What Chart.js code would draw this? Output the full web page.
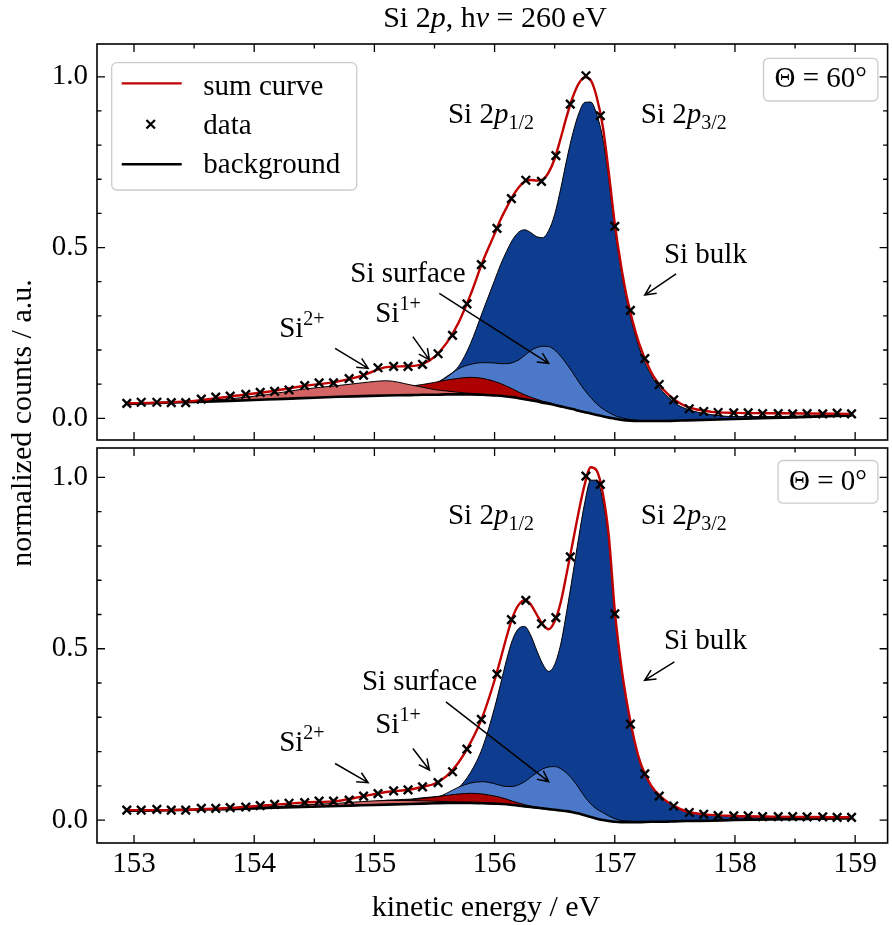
<!DOCTYPE html>
<html>
<head>
<meta charset="utf-8">
<script src="https://cdn.jsdelivr.net/npm/chart.js@4"></script>
<style>
  html, body { margin: 0; padding: 0; background: #fff; overflow: hidden; }
  .panel { position: absolute; left: 0; top: 0; }
</style>
</head>
<body>
<canvas id="panel60" class="panel" width="896" height="925"></canvas>
<canvas id="panel0" class="panel" width="896" height="925"></canvas>
<script>
// measured spectrum, kinetic energy in eV
const energies = [152.94, 153.06, 153.19, 153.31, 153.43, 153.56, 153.68, 153.80, 153.93, 154.05,
  154.17, 154.29, 154.42, 154.54, 154.66, 154.79, 154.91, 155.03, 155.16, 155.28,
  155.40, 155.53, 155.65, 155.77, 155.89, 156.02, 156.14, 156.26, 156.39, 156.51,
  156.63, 156.76, 156.88, 157.00, 157.13, 157.25, 157.37, 157.49, 157.62, 157.74,
  157.86, 157.99, 158.11, 158.23, 158.36, 158.48, 158.60, 158.73, 158.85, 158.97]

const counts60 = [0.044, 0.047, 0.047, 0.046, 0.046, 0.056, 0.062, 0.065, 0.070, 0.076,
  0.079, 0.083, 0.096, 0.104, 0.104, 0.116, 0.126, 0.148, 0.152, 0.152,
  0.158, 0.189, 0.243, 0.335, 0.450, 0.556, 0.643, 0.697, 0.694, 0.769,
  0.920, 1.003, 0.886, 0.562, 0.316, 0.175, 0.099, 0.054, 0.028, 0.020,
  0.017, 0.016, 0.016, 0.014, 0.014, 0.013, 0.014, 0.013, 0.015, 0.013]

const counts0 = [0.029, 0.029, 0.031, 0.029, 0.029, 0.034, 0.034, 0.036, 0.038, 0.042,
  0.046, 0.049, 0.051, 0.055, 0.055, 0.058, 0.070, 0.077, 0.085, 0.088,
  0.097, 0.109, 0.141, 0.207, 0.294, 0.426, 0.585, 0.641, 0.573, 0.591,
  0.768, 1.004, 0.980, 0.602, 0.280, 0.135, 0.070, 0.041, 0.022, 0.017,
  0.013, 0.012, 0.012, 0.010, 0.010, 0.010, 0.009, 0.009, 0.008, 0.008]

// fit curves sampled on this energy grid
const curveEnergies = [152.94, 153.2, 153.5, 153.8, 154.1, 154.4, 154.7, 154.9, 155.1, 155.3,
  155.4, 155.5, 155.6, 155.7, 155.8, 155.9, 156.0, 156.05, 156.1, 156.15,
  156.2, 156.25, 156.3, 156.35, 156.4, 156.45, 156.5, 156.55, 156.6, 156.65,
  156.7, 156.75, 156.8, 156.85, 156.9, 156.95, 157.0, 157.05, 157.1, 157.2,
  157.3, 157.4, 157.5, 157.6, 157.8, 158.0, 158.3, 158.6, 158.97]

// Theta = 60 deg
const background60 = [0.042, 0.045, 0.048, 0.051, 0.055, 0.059, 0.063, 0.065, 0.067, 0.068,
  0.069, 0.069, 0.070, 0.070, 0.070, 0.069, 0.067, 0.066, 0.064, 0.062,
  0.059, 0.056, 0.053, 0.050, 0.046, 0.043, 0.039, 0.035, 0.031, 0.027,
  0.022, 0.018, 0.014, 0.010, 0.006, 0.002, -0.001, -0.004, -0.006, -0.008,
  -0.008, -0.008, -0.007, -0.006, -0.004, -0.002, 0.001, 0.004, 0.008]
const sum60 = [0.044, 0.046, 0.051, 0.064, 0.077, 0.094, 0.108, 0.125, 0.150, 0.153,
  0.159, 0.180, 0.220, 0.280, 0.362, 0.458, 0.540, 0.582, 0.617, 0.650,
  0.676, 0.693, 0.698, 0.696, 0.699, 0.720, 0.760, 0.820, 0.884, 0.940,
  0.980, 0.999, 0.990, 0.940, 0.855, 0.720, 0.570, 0.452, 0.356, 0.222,
  0.137, 0.086, 0.054, 0.034, 0.019, 0.016, 0.015, 0.014, 0.013]
const bulk60 = [0.001, 0.001, 0.002, 0.002, 0.003, 0.004, 0.005, 0.007, 0.010, 0.014,
  0.020, 0.032, 0.052, 0.082, 0.149, 0.243, 0.337, 0.384, 0.425, 0.461,
  0.486, 0.496, 0.491, 0.482, 0.483, 0.507, 0.558, 0.637, 0.726, 0.806,
  0.870, 0.907, 0.912, 0.880, 0.814, 0.698, 0.556, 0.444, 0.351, 0.218,
  0.136, 0.086, 0.052, 0.033, 0.015, 0.007, 0.004, 0.003, 0.002]
const surface60 = [0.001, 0.001, 0.001, 0.002, 0.002, 0.003, 0.005, 0.007, 0.010, 0.014,
  0.020, 0.030, 0.050, 0.075, 0.088, 0.094, 0.095, 0.094, 0.096, 0.101,
  0.112, 0.128, 0.145, 0.157, 0.165, 0.167, 0.161, 0.147, 0.128, 0.107,
  0.085, 0.064, 0.047, 0.032, 0.022, 0.015, 0.009, 0.006, 0.004, 0.002,
  0.001, 0, 0, 0, 0, 0, 0, 0, 0]
const si1Plus60 = [0, 0, 0.001, 0.001, 0.002, 0.004, 0.008, 0.013, 0.020, 0.026,
  0.030, 0.036, 0.042, 0.047, 0.050, 0.048, 0.041, 0.036, 0.030, 0.024,
  0.018, 0.013, 0.009, 0.006, 0.004, 0.003, 0.002, 0.001, 0, 0,
  0, 0, 0, 0, 0, 0, 0, 0, 0, 0,
  0, 0, 0, 0, 0, 0, 0, 0, 0]
const si2Plus60 = [0, 0, 0.002, 0.006, 0.014, 0.026, 0.033, 0.039, 0.043, 0.030,
  0.022, 0.015, 0.010, 0.006, 0.003, 0.001, 0, 0, 0, 0,
  0, 0, 0, 0, 0, 0, 0, 0, 0, 0,
  0, 0, 0, 0, 0, 0, 0, 0, 0, 0,
  0, 0, 0, 0, 0, 0, 0, 0, 0]

// Theta = 0 deg
const background0 = [0.027, 0.028, 0.030, 0.032, 0.035, 0.038, 0.041, 0.043, 0.045, 0.047,
  0.048, 0.049, 0.050, 0.050, 0.050, 0.049, 0.048, 0.047, 0.046, 0.044,
  0.042, 0.040, 0.038, 0.036, 0.034, 0.032, 0.030, 0.028, 0.026, 0.023,
  0.019, 0.014, 0.009, 0.004, 0.000, -0.003, -0.005, -0.006, -0.006, -0.006,
  -0.005, -0.005, -0.004, -0.003, -0.002, 0.000, 0.002, 0.003, 0.005]
const sum0 = [0.029, 0.029, 0.031, 0.035, 0.043, 0.051, 0.056, 0.069, 0.082, 0.089,
  0.097, 0.106, 0.128, 0.168, 0.226, 0.302, 0.408, 0.470, 0.535, 0.592,
  0.628, 0.642, 0.630, 0.600, 0.572, 0.557, 0.580, 0.635, 0.720, 0.810,
  0.900, 0.980, 1.030, 1.020, 0.955, 0.830, 0.612, 0.460, 0.345, 0.182,
  0.102, 0.063, 0.040, 0.025, 0.015, 0.012, 0.010, 0.009, 0.008]
const bulk0 = [0.002, 0.001, 0.000, 0.001, 0.003, 0.003, 0.004, 0.007, 0.013, 0.014,
  0.017, 0.019, 0.024, 0.044, 0.089, 0.163, 0.280, 0.350, 0.422, 0.483,
  0.517, 0.525, 0.502, 0.460, 0.422, 0.402, 0.424, 0.485, 0.583, 0.692,
  0.806, 0.912, 0.983, 0.988, 0.933, 0.818, 0.608, 0.461, 0.348, 0.187,
  0.107, 0.068, 0.044, 0.028, 0.017, 0.012, 0.008, 0.006, 0.003]
const surface0 = [0, 0, 0.001, 0.001, 0.001, 0.002, 0.002, 0.003, 0.004, 0.006,
  0.009, 0.014, 0.028, 0.046, 0.058, 0.063, 0.058, 0.054, 0.052, 0.054,
  0.061, 0.072, 0.087, 0.102, 0.115, 0.123, 0.126, 0.122, 0.111, 0.095,
  0.075, 0.054, 0.038, 0.028, 0.022, 0.015, 0.009, 0.005, 0.003, 0.001,
  0, 0, 0, 0, 0, 0, 0, 0, 0]
const si1Plus0 = [0, 0, 0, 0.001, 0.001, 0.002, 0.003, 0.005, 0.008, 0.012,
  0.015, 0.018, 0.022, 0.026, 0.028, 0.027, 0.022, 0.019, 0.015, 0.011,
  0.008, 0.005, 0.003, 0.002, 0.001, 0, 0, 0, 0, 0,
  0, 0, 0, 0, 0, 0, 0, 0, 0, 0,
  0, 0, 0, 0, 0, 0, 0, 0, 0]
const si2Plus0 = [0, 0, 0.001, 0.002, 0.003, 0.006, 0.008, 0.011, 0.012, 0.010,
  0.008, 0.006, 0.004, 0.002, 0.001, 0, 0, 0, 0, 0,
  0, 0, 0, 0, 0, 0, 0, 0, 0, 0,
  0, 0, 0, 0, 0, 0, 0, 0, 0, 0,
  0, 0, 0, 0, 0, 0, 0, 0, 0]

const xTicks = [153, 154, 155, 156, 157, 158, 159]
const yTicks = [0.0, 0.5, 1.0]

const SERIF = '"Liberation Serif", "Times New Roman", serif'
const FS = 29
const LABEL_FS = 30
const SMALL = 20
const SUM_RED = '#c00000'
const BULK_BLUE = '#0e3c8e'
const SURFACE_BLUE = '#4b78c8'
const SI1_RED = '#ad0000'
const SI2_SALMON = '#d46464'
const CROSS = { pointStyle: 'crossRot', radius: 6, borderWidth: 2.4 }

const X_MIN = 152.692
const X_MAX = 159.27

const it = t => ({ t, italic: true })
const sub = t => ({ t, size: SMALL, dy: 6 })
const sup = t => ({ t, size: SMALL, dy: -12 })

function fontOf(part, size) {
  return (part.italic ? 'italic ' : '') + (part.size || size || FS) + 'px ' + SERIF
}

function drawRich(ctx, parts, x, y, align, size) {
  parts = parts.map(p => (typeof p === 'string' ? { t: p } : p))
  let width = 0
  for (const p of parts) {
    ctx.font = fontOf(p, size)
    width += ctx.measureText(p.t).width
  }
  let cx = align === 'center' ? x - width / 2 : (align === 'right' ? x - width : x)
  ctx.textAlign = 'left'
  for (const p of parts) {
    ctx.font = fontOf(p, size)
    ctx.fillText(p.t, cx, y + (p.dy || 0))
    cx += ctx.measureText(p.t).width
  }
  return width
}

function roundBox(ctx, x, y, w, h, r) {
  ctx.beginPath()
  ctx.moveTo(x + r, y)
  ctx.lineTo(x + w - r, y)
  ctx.arcTo(x + w, y, x + w, y + r, r)
  ctx.lineTo(x + w, y + h - r)
  ctx.arcTo(x + w, y + h, x + w - r, y + h, r)
  ctx.lineTo(x + r, y + h)
  ctx.arcTo(x, y + h, x, y + h - r, r)
  ctx.lineTo(x, y + r)
  ctx.arcTo(x, y, x + r, y, r)
  ctx.closePath()
  ctx.fillStyle = 'rgba(255,255,255,0.85)'
  ctx.fill()
  ctx.strokeStyle = '#cccccc'
  ctx.lineWidth = 1.3
  ctx.stroke()
}

function drawArrow(ctx, x0, y0, x1, y1) {
  const ang = Math.atan2(y1 - y0, x1 - x0)
  const hl = 12
  const ha = 0.45
  ctx.beginPath()
  ctx.moveTo(x0, y0)
  ctx.lineTo(x1, y1)
  ctx.moveTo(x1 - hl * Math.cos(ang - ha), y1 - hl * Math.sin(ang - ha))
  ctx.lineTo(x1, y1)
  ctx.lineTo(x1 - hl * Math.cos(ang + ha), y1 - hl * Math.sin(ang + ha))
  ctx.stroke()
}

// frame with inward ticks on all four sides
function drawFrame(chart) {
  const { ctx, chartArea: a, scales: { x, y } } = chart
  ctx.save()
  ctx.strokeStyle = '#000'
  ctx.lineWidth = 1.6
  ctx.strokeRect(a.left, a.top, a.right - a.left, a.bottom - a.top)
  ctx.lineWidth = 1.3
  ctx.beginPath()
  for (let v = 152.5; v <= 159.5; v += 0.5) {
    const px = x.getPixelForValue(v)
    if (px < a.left + 1 || px > a.right - 1) continue
    const len = Number.isInteger(v) ? 8 : 4.5
    ctx.moveTo(px, a.bottom); ctx.lineTo(px, a.bottom - len)
    ctx.moveTo(px, a.top); ctx.lineTo(px, a.top + len)
  }
  for (let k = -1; k <= 11; k++) {
    const py = y.getPixelForValue(k / 10)
    if (py < a.top + 1 || py > a.bottom - 1) continue
    const len = k % 5 === 0 ? 8 : 4.5
    ctx.moveTo(a.left, py); ctx.lineTo(a.left + len, py)
    ctx.moveTo(a.right, py); ctx.lineTo(a.right - len, py)
  }
  ctx.stroke()
  ctx.restore()
}

function drawNotes(chart, panel) {
  const { ctx, chartArea: a, scales: { x, y } } = chart
  const px = p => [x.getPixelForValue(p[0]), y.getPixelForValue(p[1])]
  ctx.save()
  ctx.fillStyle = '#000'
  ctx.strokeStyle = '#000'
  ctx.lineWidth = 1.5
  ctx.textBaseline = 'alphabetic'
  for (const note of panel.notes) {
    const [tx, ty] = px(note.at)
    drawRich(ctx, note.text, tx, ty, 'center')
    if (note.arrow) {
      const [x0, y0] = px(note.arrow[0])
      const [x1, y1] = px(note.arrow[1])
      drawArrow(ctx, x0, y0, x1, y1)
    }
  }
  // angle box in the upper right corner
  ctx.font = fontOf({})
  const label = '\u0398 = ' + panel.theta + '\u00b0'
  const w = ctx.measureText(label).width + 22
  const bx = a.right - 9.7 - w
  const by = a.top + panel.boxTop
  roundBox(ctx, bx, by, w, 42.7, 5)
  ctx.fillStyle = '#000'
  drawRich(ctx, [label], bx + w / 2, by + 29, 'center')
  ctx.restore()
}

function drawLegend(ctx) {
  ctx.save()
  roundBox(ctx, 111.7, 62.7, 245, 127.3, 5)
  ctx.lineWidth = 2.2
  ctx.strokeStyle = SUM_RED
  ctx.beginPath(); ctx.moveTo(121.7, 83.3); ctx.lineTo(181.7, 83.3); ctx.stroke()
  ctx.strokeStyle = '#000'
  ctx.fillStyle = '#000'
  Chart.helpers.drawPoint(ctx, CROSS, 150.7, 124.3)
  ctx.lineWidth = 2.6
  ctx.beginPath(); ctx.moveTo(121.7, 164.3); ctx.lineTo(181.7, 164.3); ctx.stroke()
  ctx.textBaseline = 'alphabetic'
  drawRich(ctx, ['sum curve'], 203.3, 95, 'left')
  drawRich(ctx, ['data'], 203.3, 134, 'left')
  drawRich(ctx, ['background'], 203.3, 173, 'left')
  ctx.restore()
}

function drawFigureText(ctx) {
  ctx.save()
  ctx.fillStyle = '#000'
  ctx.textBaseline = 'alphabetic'
  drawRich(ctx, ['Si 2', it('p'), ', h', it('\u03bd'), ' = 260\u2009eV'], 495, 27, 'center', LABEL_FS)
  drawRich(ctx, ['kinetic energy / eV'], 486, 916, 'center', LABEL_FS)
  ctx.translate(31, 423)
  ctx.rotate(-Math.PI / 2)
  drawRich(ctx, ['normalized counts / a.u.'], 0, 0, 'center', LABEL_FS)
  ctx.restore()
}

const p12 = ['Si 2', it('p'), sub('1/2')]
const p32 = ['Si 2', it('p'), sub('3/2')]

const panels = [
  {
    canvas: 'panel60', theta: 60, counts: counts60, sum: sum60, background: background60,
    bulk: bulk60, surface: surface60, si1: si1Plus60, si2: si2Plus60,
    yMin: -0.0635, yMax: 1.096, top: 44, bottom: 440, showX: false, boxTop: 14.3,
    notes: [
      { text: p12, at: [155.97, 0.864] },
      { text: p32, at: [157.574, 0.864] },
      { text: ['Si bulk'], at: [157.754, 0.455], arrow: [[157.51, 0.423], [157.25, 0.361]] },
      { text: ['Si surface'], at: [155.279, 0.400], arrow: [[155.540, 0.366], [156.45, 0.161]] },
      { text: ['Si', sup('1+')], at: [155.196, 0.283], arrow: [[155.32, 0.239], [155.458, 0.171]] },
      { text: ['Si', sup('2+')], at: [154.397, 0.237], arrow: [[154.673, 0.205], [154.948, 0.146]] }
    ]
  },
  {
    canvas: 'panel0', theta: 0, counts: counts0, sum: sum0, background: background0,
    bulk: bulk0, surface: surface0, si1: si1Plus0, si2: si2Plus0,
    yMin: -0.067, yMax: 1.086, top: 448, bottom: 843, showX: true, boxTop: 12.5,
    notes: [
      { text: p12, at: [155.97, 0.863] },
      { text: p32, at: [157.574, 0.863] },
      { text: ['Si bulk'], at: [157.754, 0.4985], arrow: [[157.496, 0.4615], [157.248, 0.408]] },
      { text: ['Si surface'], at: [155.375, 0.379], arrow: [[155.595, 0.345], [156.45, 0.112]] },
      { text: ['Si', sup('1+')], at: [155.196, 0.253], arrow: [[155.32, 0.209], [155.458, 0.146]] },
      { text: ['Si', sup('2+')], at: [154.397, 0.202], arrow: [[154.673, 0.165], [154.948, 0.109]] }
    ]
  }
]

const curve = values => curveEnergies.map((e, i) => ({ x: e, y: values[i] }))

// component areas sit on top of the background and are filled down to it
function component(values, background, color) {
  return {
    data: curveEnergies.map((e, i) => ({ x: e, y: background[i] + values[i] })),
    fill: 2,
    backgroundColor: color,
    borderColor: '#000',
    borderWidth: 1
  }
}

function buildChart(panel) {
  const tickFont = { family: SERIF, size: FS }
  const decor = {
    id: 'panelDecor',
    afterDraw(chart) {
      drawFrame(chart)
      drawNotes(chart, panel)
      if (panel.theta === 60) drawLegend(chart.ctx)
      else drawFigureText(chart.ctx)
    }
  }

  return new Chart(document.getElementById(panel.canvas), {
    type: 'line',
    data: {
      datasets: [
        {
          label: 'data',
          data: energies.map((e, i) => ({ x: e, y: panel.counts[i] })),
          showLine: false,
          pointStyle: CROSS.pointStyle,
          pointRadius: CROSS.radius,
          pointBorderWidth: CROSS.borderWidth,
          pointBorderColor: '#000',
          borderColor: '#000',
          fill: false
        },
        { label: 'sum curve', data: curve(panel.sum), borderColor: SUM_RED, borderWidth: 2.4, fill: false },
        { label: 'background', data: curve(panel.background), borderColor: '#000', borderWidth: 2.6, fill: false },
        component(panel.si2, panel.background, SI2_SALMON),
        component(panel.si1, panel.background, SI1_RED),
        component(panel.surface, panel.background, SURFACE_BLUE),
        component(panel.bulk, panel.background, BULK_BLUE)
      ]
    },
    options: {
      responsive: false,
      animation: false,
      devicePixelRatio: 1,
      layout: { padding: { left: 0, right: 3, top: panel.top, bottom: panel.showX ? 925 - panel.bottom - 40 : 925 - panel.bottom } },
      elements: {
        line: { cubicInterpolationMode: 'monotone' },
        point: { radius: 0, hoverRadius: 0 }
      },
      scales: {
        x: {
          type: 'linear',
          min: X_MIN,
          max: X_MAX,
          grid: { display: false, drawTicks: false },
          border: { display: false },
          ticks: {
            display: panel.showX,
            font: tickFont,
            color: '#000',
            padding: 4,
            maxRotation: 0,
            autoSkip: false,
            callback: v => String(v)
          },
          afterBuildTicks: axis => { axis.ticks = xTicks.map(v => ({ value: v })) },
          afterFit: axis => { axis.height = panel.showX ? 40 : 0 }
        },
        y: {
          min: panel.yMin,
          max: panel.yMax,
          grid: { display: false, drawTicks: false },
          border: { display: false },
          ticks: {
            font: tickFont,
            color: '#000',
            padding: 9,
            callback: v => v.toFixed(1)
          },
          afterBuildTicks: axis => { axis.ticks = yTicks.map(v => ({ value: v })) },
          afterFit: axis => { axis.width = 97 }
        }
      },
      plugins: {
        legend: { display: false },
        tooltip: { enabled: false },
        title: { display: false }
      }
    },
    plugins: [decor]
  })
}

panels.forEach(buildChart)
</script>
</body>
</html>
